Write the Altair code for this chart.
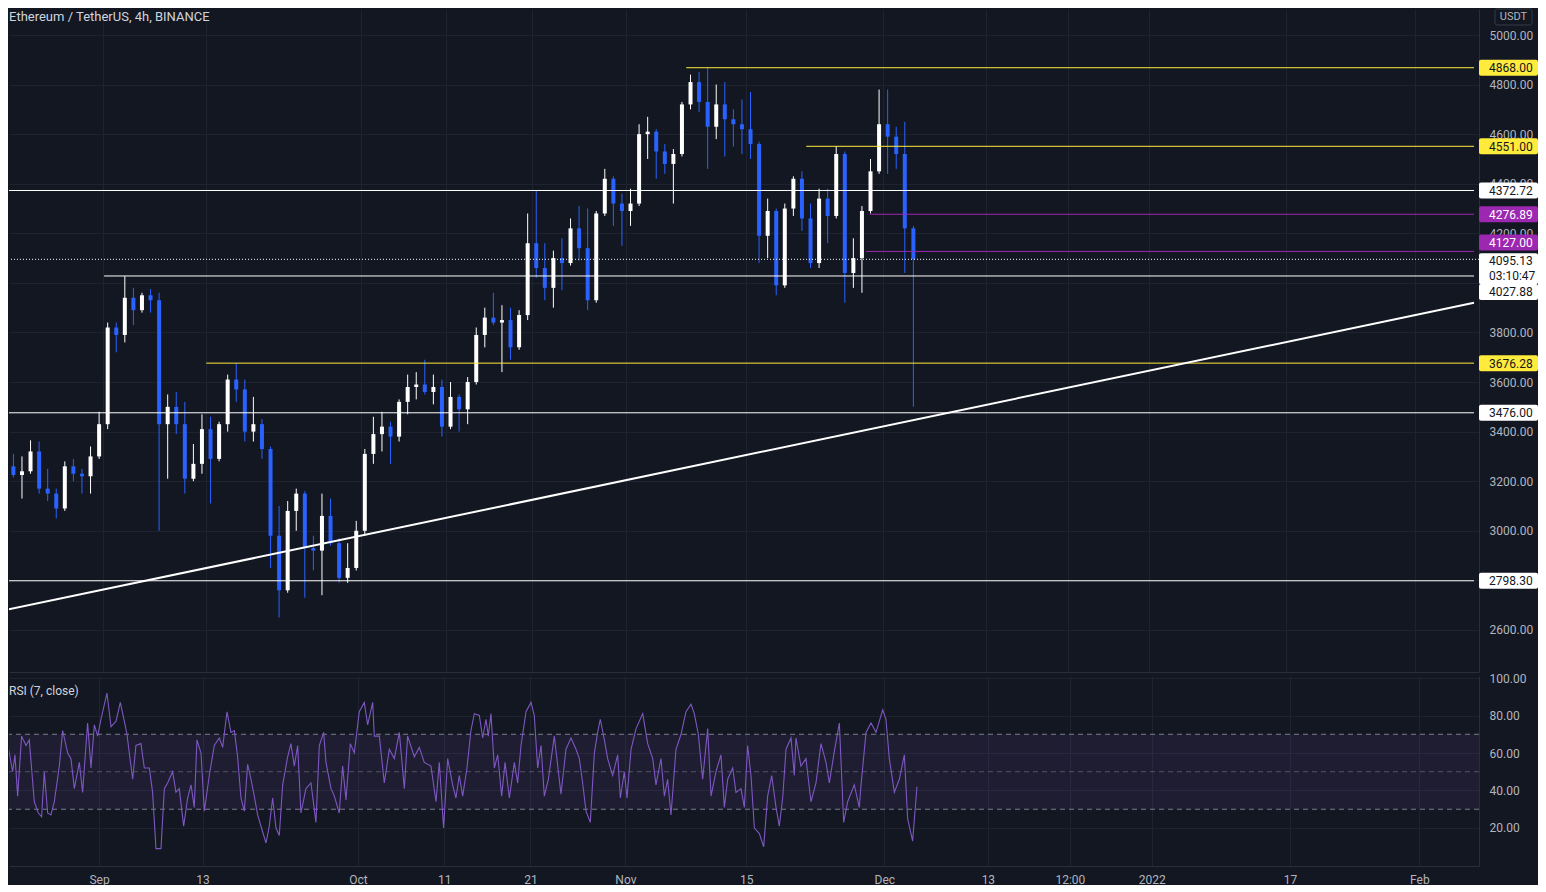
import altair as alt
import pandas as pd

# ------------------------------------------------------------------ data
# daily candles (Aug 21 .. Dec 4, 2021)
candle_days = pd.date_range("2021-08-21", "2021-12-04", freq="D")
opens = [3260, 3225, 3240, 3320, 3170, 3150, 3090, 3260, 3230, 3220, 3300,
         3430, 3820, 3790, 3940, 3890, 3950, 3930, 3430, 3500, 3430, 3210, 3270, 3410, 3290, 3430,
         3610, 3570, 3400, 3430, 3330, 2980, 2760, 3080, 3150, 2930, 2920, 3060, 2950, 2810, 2850,
         3000, 3310, 3390, 3420, 3380, 3520, 3580, 3590, 3560, 3580, 3420, 3540, 3490, 3600, 3790,
         3860, 3840, 3850, 3740, 3870, 4160, 4060, 3980, 4100, 4080, 4220, 4140, 3930, 4280, 4420, 4320,
         4290, 4320, 4600, 4610, 4530, 4480, 4520, 4720, 4810, 4730, 4630, 4720, 4660, 4640, 4620,
         4560, 4190, 4290, 3990, 4300, 4420, 4260, 4080, 4340, 4270, 4520, 4040, 4100, 4290, 4450,
         4640, 4590, 4520, 4220]
highs = [3310, 3300, 3365, 3360, 3250, 3170, 3280, 3290, 3250, 3340, 3480,
         3840, 3840, 4027, 3980, 3960, 3975, 3960, 3550, 3560, 3520, 3350, 3470, 3460, 3440, 3630,
         3676, 3610, 3540, 3450, 3340, 3100, 3120, 3170, 3160, 2980, 3150, 3130, 2970, 2950, 3040,
         3330, 3460, 3480, 3440, 3530, 3630, 3640, 3690, 3630, 3610, 3600, 3550, 3620, 3820, 3900,
         3960, 3910, 3900, 3890, 4280, 4372, 4160, 4130, 4180, 4260, 4310, 4300, 4290, 4460, 4430, 4360,
         4380, 4640, 4670, 4620, 4560, 4540, 4730, 4840, 4850, 4868, 4800, 4810, 4700, 4740, 4770,
         4570, 4340, 4300, 4320, 4430, 4450, 4320, 4380, 4380, 4551, 4530, 4180, 4310, 4500, 4780,
         4780, 4630, 4650, 4230]
lows = [3215, 3130, 3230, 3150, 3120, 3050, 3080, 3200, 3150, 3150, 3290,
        3410, 3720, 3760, 3830, 3880, 3880, 3000, 3210, 3390, 3150, 3200, 3230, 3110, 3280, 3400,
        3520, 3360, 3360, 3290, 2850, 2650, 2750, 3000, 2730, 2840, 2740, 2940, 2790, 2790, 2840,
        2980, 3270, 3320, 3270, 3360, 3470, 3530, 3550, 3510, 3380, 3410, 3400, 3430, 3590, 3740,
        3830, 3640, 3690, 3730, 3850, 4020, 3930, 3900, 3970, 4070, 4090, 3890, 3920, 4270, 4230, 4150,
        4230, 4310, 4500, 4420, 4440, 4320, 4510, 4700, 4690, 4460, 4580, 4510, 4550, 4520, 4500,
        4080, 4100, 3950, 3980, 4270, 4210, 4060, 4060, 4160, 4260, 3920, 3980, 3960, 4280, 4440,
        4440, 4460, 4040, 3500]
closes = [3225, 3240, 3320, 3170, 3150, 3090, 3260, 3230, 3220, 3300, 3430,
          3820, 3790, 3940, 3890, 3950, 3930, 3430, 3500, 3430, 3210, 3270, 3410, 3290, 3430, 3610,
          3570, 3400, 3430, 3330, 2980, 2760, 3080, 3150, 2930, 2920, 3060, 2950, 2810, 2850, 3000,
          3310, 3390, 3420, 3380, 3520, 3580, 3590, 3560, 3580, 3420, 3540, 3490, 3600, 3790, 3860,
          3840, 3850, 3740, 3870, 4160, 4060, 3980, 4100, 4080, 4220, 4140, 3930, 4280, 4420, 4320, 4290,
          4320, 4600, 4610, 4530, 4480, 4520, 4720, 4810, 4730, 4630, 4720, 4660, 4640, 4620, 4560,
          4190, 4290, 3990, 4300, 4420, 4260, 4080, 4340, 4270, 4520, 4040, 4100, 4290, 4450, 4640,
          4590, 4520, 4220, 4095.13]

# RSI(7) trace: position in days after 2021-09-01 00:00, value
rsi_days = [-11.36, -10.78, -10.39, -10.01, -9.74, -9.43, -8.97, -8.46, -8.08, -7.50,
            -7.03, -6.65, -6.34, -5.95, -5.57, -5.18, -4.60, -4.21, -3.63, -3.25,
            -2.86, -2.28, -1.90, -1.32, -0.93, -0.54, -0.16, 0.23, 0.92, 1.39,
            1.97, 2.47, 2.93, 3.24, 3.51, 3.90, 4.28, 4.86, 5.25, 5.83,
            6.21, 6.60, 7.18, 7.57, 7.95, 8.53, 8.92, 9.30, 9.81, 10.27,
            10.66, 11.04, 11.35, 11.82, 12.20, 12.78, 13.36, 13.94, 14.33, 14.83,
            15.29, 15.68, 16.06, 16.45, 16.84, 17.22, 17.61, 17.99, 18.38, 18.96,
            19.35, 19.73, 20.12, 20.51, 20.89, 21.28, 21.86, 22.24, 22.63, 23.02,
            23.40, 23.98, 24.56, 25.14, 25.53, 26.03, 26.30, 26.88, 27.27, 27.84,
            28.23, 28.62, 29.12, 29.58, 30.16, 30.74, 31.13, 31.71, 31.90, 32.48,
            33.06, 33.64, 34.22, 34.80, 35.38, 35.76, 36.54, 37.11, 37.69, 38.47,
            39.05, 39.43, 39.93, 40.40, 40.98, 41.36, 41.75, 42.14, 42.64, 43.10,
            43.49, 44.07, 44.46, 44.84, 45.11, 45.42, 45.81, 46.20, 46.66, 47.05,
            47.55, 48.13, 48.51, 48.90, 49.48, 50.06, 50.44, 50.83, 51.22, 51.60,
            52.07, 52.76, 53.53, 54.11, 54.69, 55.27, 55.66, 56.04, 56.43, 56.93,
            57.40, 57.78, 58.09, 58.56, 58.94, 59.52, 60.10, 60.41, 60.87, 61.18,
            61.65, 62.23, 63.00, 63.58, 64.16, 64.54, 65.12, 65.51, 65.89, 66.28,
            66.86, 67.44, 68.02, 68.60, 68.98, 69.45, 69.95, 70.53, 70.92, 71.49,
            72.07, 72.46, 72.85, 73.43, 73.81, 74.39, 74.78, 75.16, 75.55, 75.94,
            76.52, 77.02, 77.48, 77.95, 78.45, 78.83, 79.22, 79.61, 80.19, 80.57,
            80.76, 81.34, 81.92, 82.50, 83.08, 83.66, 84.24, 84.63, 85.21, 85.79,
            86.29, 86.75, 87.52, 88.10, 88.30, 88.88, 89.46, 90.04, 90.81, 91.19,
            91.58, 92.16, 92.74, 93.32, 93.70, 94.28, 94.78]
rsi_values = [70.5, 69, 60, 50, 59, 37, 69, 64, 67, 34,
              28, 26, 50, 28, 27, 34, 53, 72, 60, 57,
              41, 55, 39, 76, 52, 75, 69, 78, 92, 74,
              77, 87, 77, 70, 60, 46, 64, 65, 52, 52,
              39, 9, 9, 41, 44, 50, 39, 41, 21, 36,
              43, 31, 67, 60, 29, 48, 64, 68, 63, 82,
              71, 72, 58, 36, 29, 54, 46, 37, 27, 18,
              12, 21, 36, 20, 16, 43, 58, 65, 53, 64,
              28, 41, 44, 23, 64, 71, 55, 41, 37, 28,
              53, 35, 65, 60, 82, 87, 75, 87, 69, 69,
              44, 62, 57, 71, 41, 69, 58, 63, 55, 53,
              34, 55, 20, 57, 43, 36, 48, 37, 52, 72,
              81, 80, 68, 78, 69, 81, 52, 59, 37, 55,
              36, 55, 44, 64, 82, 87, 80, 52, 64, 37,
              46, 69, 38, 62, 68, 62, 57, 44, 29, 23,
              60, 71, 78, 67, 57, 48, 59, 36, 50, 36,
              62, 73, 81, 65, 57, 43, 57, 37, 46, 27,
              62, 70, 82, 86, 81, 70, 46, 73, 37, 50,
              59, 31, 46, 52, 39, 41, 31, 64, 48, 20,
              17, 10, 37, 48, 31, 21, 36, 62, 68, 48,
              68, 53, 57, 34, 44, 65, 55, 44, 61, 76,
              23, 34, 43, 31, 43, 71, 76, 71, 83, 78,
              57, 39, 46, 59, 25, 13, 42]

# horizontal levels drawn on the chart
level_prices = [4868.00, 4551.00, 4372.72, 4276.89, 4127.00, 4027.88, 3676.28, 3476.00, 2798.30]
level_starts = ["2021-11-08T00:00:00", "2021-11-22T00:00:00", "2021-08-20T00:00:00",
                "2021-11-29T10:00:00", "2021-11-29T00:00:00", "2021-09-01T02:00:00",
                "2021-09-13T00:00:00", "2021-08-20T00:00:00", "2021-08-20T00:00:00"]
level_kinds = ["yellow", "yellow", "white", "purple", "purple", "white", "yellow", "white", "white"]

last_price = 4095.13
countdown = "03:10:47"

# trend line end points
trend_times = ["2021-08-20T00:00:00", "2022-02-07T21:50:00"]
trend_prices = [2676, 3920]

# price tags on the scale
tag_prices = [4868.00, 4551.00, 4372.72, 4276.89, 4127.00, 4027.88, 3676.28, 3476.00, 2798.30]
tag_kinds = ["yellow", "yellow", "white", "purple", "purple", "white", "yellow", "white", "white"]

price_ticks = [2600, 2800, 3000, 3200, 3400, 3600, 3800, 4000, 4200, 4400, 4600, 4800, 5000]
rsi_ticks = [20, 40, 60, 80, 100]

# ------------------------------------------------------------------ style
BG = "#131722"
GRID = "#1f2330"
SEP = "#2a2e39"
TXT = "#d1d4dc"
AX = "#b2b5be"
UP = "#ffffff"
DOWN = "#2962ff"
COLORS = {"yellow": "#ffeb3b", "white": "#ffffff", "purple": "#9c27b0"}
TAGTXT = {"yellow": "#131722", "white": "#131722", "purple": "#ffffff"}
FONT = "Roboto"
W = 1470
H_MAIN = 663
H_RSI = 190

X_END_STR = "2022-02-07T21:50:00"
XS = alt.Scale(domain=[alt.DateTime(year=2021, month=8, date=21, hours=13, minutes=41),
                       alt.DateTime(year=2022, month=2, date=7, hours=21, minutes=50)])
YS = alt.Scale(domain=[2430.3, 5104.9], zero=False, nice=False)
RS = alt.Scale(domain=[-0.27, 101.07], zero=False, nice=False)

tick_dates = [alt.DateTime(year=2021, month=9, date=1), alt.DateTime(year=2021, month=9, date=13),
              alt.DateTime(year=2021, month=10, date=1), alt.DateTime(year=2021, month=10, date=11),
              alt.DateTime(year=2021, month=10, date=21), alt.DateTime(year=2021, month=11, date=1),
              alt.DateTime(year=2021, month=11, date=15), alt.DateTime(year=2021, month=12, date=1),
              alt.DateTime(year=2021, month=12, date=13),
              alt.DateTime(year=2021, month=12, date=22, hours=12),
              alt.DateTime(year=2022, month=1, date=1), alt.DateTime(year=2022, month=1, date=17),
              alt.DateTime(year=2022, month=2, date=1)]

# ------------------------------------------------------------------ frames
fmt = "%Y-%m-%dT%H:%M:%S"
candles = pd.DataFrame({
    "t": (candle_days + pd.Timedelta(hours=12)).strftime(fmt),
    "open": opens, "high": highs, "low": lows, "close": closes,
})
rsi = pd.DataFrame({
    "t": (pd.Timestamp("2021-09-01") + pd.to_timedelta(rsi_days, unit="D")).strftime(fmt),
    "rsi": rsi_values,
})
levels = pd.DataFrame({"price": level_prices, "start": level_starts,
                       "end": [X_END_STR] * len(level_prices), "kind": level_kinds})
trend = pd.DataFrame({"t": trend_times, "price": trend_prices})

kind_color = alt.Color("kind:N", scale=alt.Scale(domain=list(COLORS.keys()),
                                                 range=list(COLORS.values())), legend=None)

x_main_axis = alt.Axis(values=tick_dates, labels=False, ticks=False, tickSize=0, labelPadding=0,
                       grid=True, gridColor=GRID, domain=True, domainColor=SEP, title=None)
# the 4000 label is hidden behind the price tags in the original
y_main_axis = alt.Axis(orient="right", values=price_ticks, labelColor=AX,
                       labelExpr="datum.value == 4000 ? '' : format(datum.value, '.2f')",
                       labelFontSize=12, labelPadding=10, ticks=False, grid=True, gridColor=GRID,
                       domain=True, domainColor=SEP, title=None)


def YM(field):
    return alt.Y(field, scale=YS, axis=y_main_axis, title=None)


def XM(field):
    return alt.X(field, scale=XS, axis=x_main_axis, title=None)


candle_color = alt.condition("datum.close >= datum.open", alt.value(UP), alt.value(DOWN))

wicks = alt.Chart(candles).mark_rule(strokeWidth=1, clip=True).encode(
    x=XM("t:T"), y=YM("low:Q"), y2="high:Q", color=candle_color,
)
bodies = alt.Chart(candles).mark_bar(size=4, clip=True).encode(
    x=XM("t:T"), y=YM("open:Q"), y2="close:Q", color=candle_color,
)
level_rules = alt.Chart(levels).mark_rule(strokeWidth=1, clip=True).encode(
    x=XM("start:T"), x2="end:T", y=YM("price:Q"), color=kind_color,
)
last_rule = alt.Chart(pd.DataFrame({"price": [last_price]})).mark_rule(
    strokeWidth=1, strokeDash=[1, 2], color="#ffffff").encode(y=YM("price:Q"))
trend_line = alt.Chart(trend).mark_line(strokeWidth=2, color="#ffffff", clip=True).encode(
    x=XM("t:T"), y=YM("price:Q"),
)

# price tags
tag_layers = []
tag_offsets = {4127.00: -9, 4027.88: 16}
for p, k in zip(tag_prices, tag_kinds):
    df = pd.DataFrame({"price": [p], "label": [f"{p:.2f}"]})
    off = tag_offsets.get(p, 0)
    box = alt.Chart(df).mark_rect(color=COLORS[k], yOffset=off - 8, y2Offset=off + 8,
                                  cornerRadius=2).encode(
        x=alt.value(W), x2=alt.value(W + 59), y=YM("price:Q"), y2="price:Q")
    txt = alt.Chart(df).mark_text(align="left", baseline="middle", fontSize=12, font=FONT,
                                  color=TAGTXT[k], dy=off + 0.5).encode(
        x=alt.value(W + 10), y=YM("price:Q"), text="label:N")
    tag_layers += [box, txt]

cur = pd.DataFrame({"price": [last_price], "label": [f"{last_price:.2f}"], "cd": [countdown]})
cur_box = alt.Chart(cur).mark_rect(color="#ffffff", yOffset=-6, y2Offset=25,
                                   cornerRadius=2).encode(
    x=alt.value(W), x2=alt.value(W + 59), y=YM("price:Q"), y2="price:Q")
cur_txt = alt.Chart(cur).mark_text(align="left", baseline="middle", fontSize=12, font=FONT,
                                   color="#131722", dy=1.5).encode(
    x=alt.value(W + 10), y=YM("price:Q"), text="label:N")
cur_cd = alt.Chart(cur).mark_text(align="left", baseline="middle", fontSize=12, font=FONT,
                                  color="#131722", dy=16.5).encode(
    x=alt.value(W + 10), y=YM("price:Q"), text="cd:N")

title_txt = alt.Chart(pd.DataFrame({"s": ["Ethereum / TetherUS, 4h, BINANCE"]})).mark_text(
    align="left", baseline="middle", fontSize=13, font=FONT, color=TXT).encode(
    x=alt.value(0), y=alt.value(8), text="s:N")
usdt_box = alt.Chart(pd.DataFrame({"s": ["USDT"]})).mark_rect(
    fill=BG, stroke="#363a45", strokeWidth=1, cornerRadius=2).encode(
    x=alt.value(W + 16), x2=alt.value(W + 53), y=alt.value(0), y2=alt.value(16))
usdt_txt = alt.Chart(pd.DataFrame({"s": ["USDT"]})).mark_text(
    align="center", baseline="middle", fontSize=11, font=FONT, color=AX).encode(
    x=alt.value(W + 34.5), y=alt.value(8), text="s:N")

main = alt.layer(
    wicks, bodies, level_rules, last_rule, trend_line, *tag_layers, cur_box, cur_txt, cur_cd,
    title_txt, usdt_box, usdt_txt,
).properties(width=W, height=H_MAIN)

# ------------------------------------------------------------------ RSI panel
x_rsi_axis = alt.Axis(
    values=tick_dates, ticks=False, grid=True, gridColor=GRID, domain=True, domainColor=SEP,
    title=None, labelColor=AX, labelFontSize=12, labelPadding=8, labelOverlap=False,
    labelFlush=False,
    labelExpr="hours(datum.value) == 12 ? '12:00' : (date(datum.value) == 1 ? "
              "(month(datum.value) == 0 ? timeFormat(datum.value, '%Y') : timeFormat(datum.value, '%b')) "
              ": timeFormat(datum.value, '%d'))",
)
y_rsi_axis = alt.Axis(orient="right", values=rsi_ticks, format=".2f", labelColor=AX,
                      labelFontSize=12, labelPadding=10, ticks=False, grid=True, gridColor=GRID,
                      domain=True, domainColor=SEP, title=None)


def YR(field):
    return alt.Y(field, scale=RS, axis=y_rsi_axis, title=None)


band = alt.Chart(pd.DataFrame({"lo": [30], "hi": [70]})).mark_rect(
    color="#7e57c2", opacity=0.1).encode(
    x=alt.value(0), x2=alt.value(W), y=YR("lo:Q"), y2="hi:Q")
bands = alt.Chart(pd.DataFrame({"lvl": [30, 70]})).mark_rule(
    color="#9598a1", strokeDash=[5, 4], strokeWidth=1, opacity=0.8).encode(y=YR("lvl:Q"))
mid = alt.Chart(pd.DataFrame({"lvl": [50]})).mark_rule(
    color="#9598a1", strokeDash=[5, 4], strokeWidth=1, opacity=0.45).encode(y=YR("lvl:Q"))
rsi_line = alt.Chart(rsi).mark_line(color="#7e57c2", strokeWidth=1.1, clip=True).encode(
    x=alt.X("t:T", scale=XS, axis=x_rsi_axis, title=None),
    y=YR("rsi:Q"),
)
rsi_label = alt.Chart(pd.DataFrame({"s": ["RSI (7, close)"]})).mark_text(
    align="left", baseline="middle", fontSize=12, font=FONT, color=TXT).encode(
    x=alt.value(0), y=alt.value(15), text="s:N")

rsi_panel = alt.layer(band, bands, mid, rsi_line, rsi_label).properties(width=W, height=H_RSI)

chart = alt.vconcat(main, rsi_panel, spacing=0).properties(
    background=BG, padding=0,
).configure(font=FONT).configure_view(stroke=None).configure_axis(labelFont=FONT)

chart.save("out.html", embed_options={"renderer": "svg", "actions": False})
